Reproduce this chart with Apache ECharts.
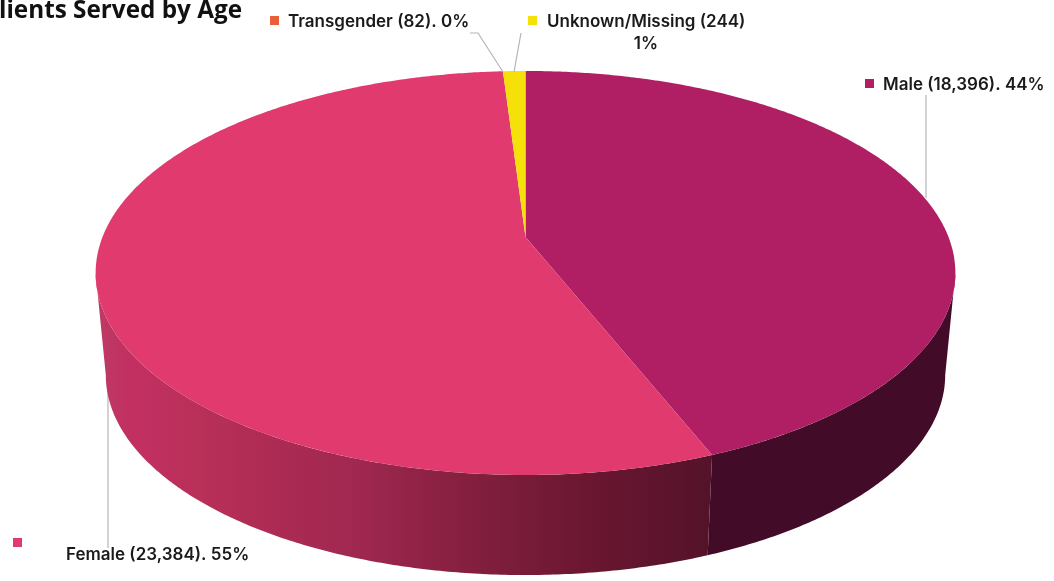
<!DOCTYPE html>
<html>
<head>
<meta charset="utf-8">
<style>html,body{margin:0;padding:0;background:#fff}#c{width:1054px;height:581px}</style>
<script src="https://cdn.jsdelivr.net/npm/echarts@6/dist/echarts.min.js"></script>
</head>
<body>
<div id="c"></div>
<script>
// ---- data
const titleText = 'lients Served by Age';
const categories = ['Male', 'Female', 'Transgender', 'Unknown/Missing'];
const counts = [18396, 23384, 82, 244];
const percents = [44, 55, 0, 1];       // the slices are drawn from the rounded shares
const topColors = ['#b01f63', '#e03a6e', '#e85f3a', '#f5e00a'];
const markerColors = ['#b01f63', '#e03a6e', '#e85f3a', '#f5e00a'];

// ---- projection of the tilted disc (perspective view)
const CX = 525.5, K = 0.178;
const TOP = {y0: 237, A: 423, B: 195.6};
const BOT = {y0: 339.4, A: 413, B: 193.7};
const VIS = [100.25, 259.75];
function project(plane, deg) {
  const t = deg * Math.PI / 180, u = Math.sin(t), v = -Math.cos(t), w = 1 - K * v;
  return [CX + plane.A * u / w, plane.y0 + plane.B * v / w];
}
function arc(plane, a, b) {
  const out = [], n = Math.max(2, Math.ceil(Math.abs(b - a) / 0.5));
  for (let i = 0; i <= n; i++) out.push(project(plane, a + (b - a) * i / n));
  return out;
}
let acc = 0;
const spans = percents.map(p => { const s = [acc * 3.6, (acc + p) * 3.6]; acc += p; return s; });

// ---- side shading
const femaleStops = [
  [0.00, '#bd3a64'], [0.05, '#c22f62'], [0.16, '#b93059'], [0.28, '#ad2b54'],
  [0.42, '#a02850'], [0.56, '#8a2143'], [0.70, '#771b38'], [0.84, '#66152f'], [1.00, '#54132a']
].map(s => ({offset: s[0], color: s[1]}));
const femaleSide = new echarts.graphic.LinearGradient(100, 0, 712, 0, femaleStops, true);
const sideFills = ['#420c28', femaleSide, '#8a3a20', '#8a7a05'];

// ---- label layout
const FONT = 'Inter, "Open Sans", sans-serif';
const LABEL_FONT = '600 17px ' + FONT;
const LEADER = {fill: null, stroke: '#b5b5b5', lineWidth: 1.2};
const labelLayout = [
  {sx: 865, sy: 79, tx: 883, ty: 85, line: [[926, 95], [926, 198]]},
  {sx: 13, sy: 538, tx: 66, ty: 555, line: [[108, 548], [108, 370]]},
  {sx: 270, sy: 16, tx: 288, ty: 22, line: [[470, 33], [478, 33], [503, 72]]},
  {sx: 528, sy: 16, tx: 547, ty: 22, line: [[521, 33], [514, 72]]}
];
const labelTexts = categories.map((c, i) => {
  const n = counts[i].toLocaleString('en-US');
  return i === 3 ? c + ' (' + n + ')' : c + ' (' + n + '). ' + percents[i] + '%';
});

const idx = categories.map((c, i) => [i, percents[i]]);
function base(name, z, renderItem) {
  return {type: 'custom', name, coordinateSystem: 'none', data: idx, z, silent: true, animation: false, clip: false, renderItem};
}

const option = {
  animation: false,
  backgroundColor: '#ffffff',
  title: {text: titleText, left: -1, top: -1, padding: 0,
    textStyle: {fontFamily: '"Open Sans", sans-serif', fontWeight: 700, fontSize: 24.3, color: '#111'}},
  series: [
    base('leaders-under', 1, (p) => {
      const i = p.dataIndex;
      if (i !== 1) return null;
      return {type: 'polyline', shape: {points: labelLayout[i].line}, style: LEADER};
    }),
    base('sides', 2, (p, api) => {
      const i = p.dataIndex, s = spans[i];
      const a = Math.max(s[0], VIS[0]), b = Math.min(s[1], VIS[1]);
      if (!(api.value(1) > 0) || b <= a) return null;
      return {type: 'polygon',
        shape: {points: arc(TOP, a, b).concat(arc(BOT, b, a))},
        style: {fill: sideFills[i], stroke: null}};
    }),
    base('tops', 3, (p, api) => {
      const i = p.dataIndex, s = spans[i];
      if (!(api.value(1) > 0)) return null;
      return {type: 'polygon',
        shape: {points: [[CX, TOP.y0]].concat(arc(TOP, s[0], s[1]))},
        style: {fill: topColors[i], stroke: null}};
    }),
    base('labels', 4, (p) => {
      const i = p.dataIndex, L = labelLayout[i], kids = [];
      if (i !== 1) kids.push({type: 'polyline', shape: {points: L.line}, style: LEADER});
      kids.push({type: 'rect', shape: {x: L.sx, y: L.sy, width: 9, height: 9}, style: {fill: markerColors[i]}});
      kids.push({type: 'text', x: L.tx, y: L.ty, style: {text: labelTexts[i], fill: '#1a1a1a',
        font: LABEL_FONT, textAlign: 'left', textVerticalAlign: 'middle'}});
      if (i === 3) kids.push({type: 'text', x: 646, y: 44, style: {text: percents[i] + '%', fill: '#1a1a1a',
        font: LABEL_FONT, textAlign: 'center', textVerticalAlign: 'middle'}});
      return {type: 'group', children: kids};
    })
  ]
};
echarts.init(document.getElementById('c'), null, {renderer: 'canvas'}).setOption(option);
</script>
</body>
</html>
